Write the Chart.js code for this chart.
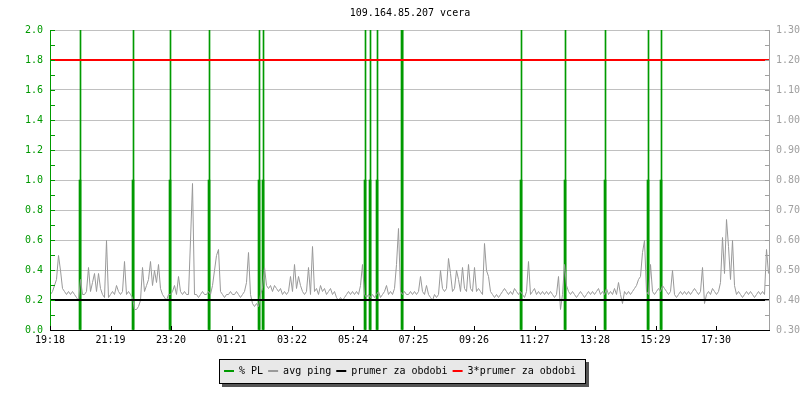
<!DOCTYPE html>
<html><head><meta charset="utf-8">
<script src="https://cdn.jsdelivr.net/npm/chart.js@4"></script>
<style>html,body{margin:0;padding:0;background:#fff}canvas{display:block}</style>
</head><body>
<canvas id="c" width="800" height="400"></canvas>
<script>
// ---------- data ----------
const chartTitle = '109.164.85.207 vcera';
const startTime = '19:18';
const periodMinutes = 1440;
const timeLabels = ['19:18','21:19','23:20','01:21','03:22','05:24','07:25','09:26','11:27','13:28','15:29','17:30'];
const seriesNames = ['% PL', 'avg ping', 'prumer za obdobi', '3*prumer za obdobi'];

// avg ping (ms), one sample every 4 minutes from 19:18
const pingStepMinutes = 4;
const pingValues = [
  0.42,0.43,0.45,0.47,0.55,0.50,0.44,0.43,0.42,0.43,
  0.42,0.43,0.42,0.41,0.40,0.47,0.42,0.42,0.43,0.51,
  0.43,0.46,0.49,0.43,0.49,0.44,0.42,0.41,0.60,0.41,
  0.42,0.43,0.42,0.45,0.43,0.42,0.43,0.53,0.42,0.43,
  0.42,0.41,0.37,0.37,0.38,0.40,0.51,0.43,0.45,0.47,
  0.53,0.45,0.50,0.46,0.52,0.44,0.42,0.41,0.40,0.42,
  0.42,0.43,0.45,0.42,0.48,0.43,0.42,0.43,0.42,0.42,
  0.60,0.79,0.42,0.42,0.41,0.42,0.43,0.42,0.42,0.43,
  0.42,0.45,0.50,0.55,0.57,0.43,0.42,0.41,0.42,0.42,
  0.43,0.42,0.42,0.43,0.42,0.41,0.42,0.43,0.46,0.56,
  0.42,0.39,0.38,0.39,0.38,0.42,0.44,0.51,0.45,0.44,
  0.45,0.43,0.45,0.44,0.43,0.44,0.42,0.43,0.42,0.43,
  0.48,0.43,0.52,0.44,0.48,0.45,0.43,0.42,0.43,0.51,
  0.42,0.58,0.43,0.44,0.42,0.45,0.43,0.44,0.42,0.43,
  0.44,0.42,0.43,0.41,0.40,0.41,0.40,0.41,0.42,0.43,
  0.42,0.43,0.42,0.43,0.42,0.45,0.52,0.42,0.41,0.42,
  0.41,0.42,0.41,0.42,0.43,0.41,0.42,0.43,0.45,0.42,
  0.43,0.42,0.44,0.52,0.64,0.43,0.42,0.43,0.42,0.42,
  0.43,0.42,0.43,0.42,0.43,0.48,0.43,0.42,0.45,0.42,
  0.41,0.40,0.42,0.41,0.42,0.50,0.44,0.43,0.44,0.54,
  0.49,0.43,0.44,0.50,0.47,0.43,0.51,0.44,0.43,0.52,
  0.44,0.43,0.51,0.43,0.44,0.43,0.42,0.59,0.50,0.48,
  0.43,0.42,0.41,0.42,0.41,0.42,0.43,0.44,0.43,0.42,
  0.43,0.42,0.44,0.43,0.42,0.43,0.42,0.41,0.43,0.53,
  0.42,0.43,0.44,0.42,0.43,0.42,0.43,0.42,0.43,0.42,
  0.43,0.42,0.41,0.42,0.48,0.37,0.42,0.52,0.45,0.43,
  0.42,0.43,0.42,0.41,0.42,0.43,0.42,0.41,0.42,0.43,
  0.42,0.43,0.42,0.43,0.44,0.42,0.43,0.42,0.44,0.42,
  0.43,0.42,0.44,0.42,0.46,0.42,0.39,0.43,0.42,0.43,
  0.42,0.43,0.44,0.45,0.47,0.48,0.56,0.60,0.43,0.42,
  0.52,0.43,0.42,0.43,0.44,0.43,0.45,0.44,0.43,0.42,
  0.43,0.50,0.42,0.41,0.42,0.43,0.42,0.43,0.42,0.43,
  0.42,0.43,0.44,0.43,0.42,0.43,0.51,0.39,0.42,0.43,
  0.42,0.44,0.43,0.42,0.43,0.46,0.61,0.49,0.67,0.58,
  0.47,0.60,0.45,0.42,0.43,0.42,0.41,0.42,0.43,0.42,
  0.43,0.42,0.41,0.42,0.43,0.42,0.43,0.42,0.57,0.49
];

// packet loss samples (minutes after 19:18, %)
const plTimes  = [60,166,240,318,418,426,630,640,654,704,942,1030,1110,1196,1222];
const plValues = [1,1,1,1,1,1,1,1,1,3,1,1,1,1,1];
const plPeakTimes  = [61,167,241,319,419,427,631,641,655,705,943,1031,1111,1197,1223];
const plPeakValues = [5,5,5,5,5,5,5,5,5,5,5,5,5,5,5];

const avgPing = 0.40;

// ---------- styles ----------
const GREEN = '#009a00';
const GRAY = '#999999';
const AXIS_GRAY = '#a0a0a0';
const FONT = {family: "'DejaVu Sans Mono', monospace", size: 10, weight: 'normal'};

function minutesFromStart(lbl) {
  const [h, m] = lbl.split(':').map(Number);
  const [h0, m0] = startTime.split(':').map(Number);
  return ((h * 60 + m) - (h0 * 60 + m0) + 1440) % 1440;
}
const tickMinutes = timeLabels.map(minutesFromStart);

const pingData = pingValues.map((v, i) => ({x: i * pingStepMinutes, y: v}));
const plData = plTimes.map((t, i) => ({x: t, y: plValues[i]}));
const plPeakData = plPeakTimes.map((t, i) => ({x: t, y: plPeakValues[i]}));

const crispPlugin = {
  id: 'crisp',
  beforeDatasetDraw(chart, args) {
    if (chart.data.datasets[args.index].crisp) { chart.ctx.save(); chart.ctx.translate(0.5, 0.5); }
  },
  afterDatasetDraw(chart, args) {
    if (chart.data.datasets[args.index].crisp) chart.ctx.restore();
  }
};

const legendBoxPlugin = {
  id: 'legendBox',
  beforeDraw(chart) {
    const lg = chart.legend;
    if (!lg || !lg.legendHitBoxes || !lg.legendHitBoxes.length) return;
    const hb = lg.legendHitBoxes;
    const first = hb[0], last = hb[hb.length - 1];
    const l = Math.round(first.left - 5);
    const r = Math.round(last.left + last.width + 9);
    const cy = Math.round(first.top + first.height / 2);
    const t = cy - 12, b = cy + 12;
    const ctx = chart.ctx;
    ctx.save();
    ctx.fillStyle = '#555555';
    ctx.fillRect(l + 3, t + 3, r - l + 1, b - t + 1);
    ctx.fillStyle = '#e8e8e8';
    ctx.fillRect(l, t, r - l, b - t);
    ctx.strokeStyle = '#000';
    ctx.lineWidth = 1;
    ctx.strokeRect(l + 0.5, t + 0.5, r - l, b - t);
    ctx.restore();
  }
};

const axesPlugin = {
  id: 'axesDraw',
  afterDatasetsDraw(chart) {
    const {ctx, chartArea: a, scales} = chart;
    const yl = scales.yL, yr = scales.yR, x = scales.x;
    ctx.save();
    ctx.lineWidth = 1;
    // left axis
    ctx.strokeStyle = GREEN;
    ctx.beginPath();
    ctx.moveTo(a.left + 0.5, a.top); ctx.lineTo(a.left + 0.5, a.bottom + 1);
    const lStep = yl.options.ticks.stepSize / 2;
    for (let v = yl.min; v <= yl.max + 1e-9; v += lStep) {
      const p = Math.round(yl.getPixelForValue(v)) + 0.5;
      ctx.moveTo(a.left, p); ctx.lineTo(a.left + 5, p);
    }
    ctx.stroke();
    // right axis
    ctx.strokeStyle = AXIS_GRAY;
    ctx.beginPath();
    ctx.moveTo(a.right - 0.5, a.top); ctx.lineTo(a.right - 0.5, a.bottom + 1);
    const rStep = yr.options.ticks.stepSize / 2;
    for (let v = yr.min; v <= yr.max + 1e-9; v += rStep) {
      const p = Math.round(yr.getPixelForValue(v)) + 0.5;
      ctx.moveTo(a.right - 5, p); ctx.lineTo(a.right, p);
    }
    ctx.stroke();
    // x axis
    ctx.strokeStyle = '#000';
    ctx.beginPath();
    ctx.moveTo(a.left, a.bottom + 0.5); ctx.lineTo(a.right, a.bottom + 0.5);
    tickMinutes.forEach(m => {
      const p = Math.round(x.getPixelForValue(m)) + 0.5;
      ctx.moveTo(p, a.bottom); ctx.lineTo(p, a.bottom - 4);
    });
    ctx.stroke();
    ctx.restore();
  }
};

new Chart(document.getElementById('c'), {
  type: 'line',
  data: {
    datasets: [
      {type: 'bar', label: seriesNames[0], data: plData, yAxisID: 'yL', backgroundColor: GREEN,
       barThickness: 2, grouped: false, borderWidth: 0, order: 5, legendColor: GREEN},
      {type: 'line', label: seriesNames[1], data: pingData, yAxisID: 'yR', borderColor: GRAY,
       borderWidth: 1, pointRadius: 0, tension: 0, order: 3, crisp: true, legendColor: GRAY},
      {type: 'line', label: seriesNames[2], data: [{x: 0, y: avgPing}, {x: periodMinutes, y: avgPing}],
       yAxisID: 'yR', borderColor: '#000', borderWidth: 2, pointRadius: 0, order: 2, legendColor: '#000'},
      {type: 'line', label: seriesNames[3], data: [{x: 0, y: 3 * avgPing}, {x: periodMinutes, y: 3 * avgPing}],
       yAxisID: 'yR', borderColor: '#ff0000', borderWidth: 2, pointRadius: 0, order: 1, legendColor: '#ff0000'},
      {type: 'bar', data: plPeakData, yAxisID: 'yL', backgroundColor: GREEN,
       barThickness: 1, grouped: false, borderWidth: 0, order: 4}
    ]
  },
  options: {
    responsive: false,
    animation: false,
    events: [],
    layout: {padding: {top: 0, left: 0, right: 0, bottom: 14}},
    scales: {
      x: {
        type: 'linear', min: 0, max: periodMinutes, offset: false,
        afterFit(s) { s.height = 31; },
        afterBuildTicks(s) { s.ticks = tickMinutes.map(v => ({value: v})); },
        ticks: {
          autoSkip: false, maxRotation: 0, padding: 4, color: '#000', font: FONT,
          callback: (v) => { const i = tickMinutes.indexOf(v); return i >= 0 ? timeLabels[i] : ''; }
        },
        grid: {display: false, drawTicks: false},
        border: {display: false}
      },
      yL: {
        position: 'left', min: 0, max: 2,
        afterFit(s) { s.width = 50; },
        ticks: {stepSize: 0.2, padding: 7, color: GREEN, font: FONT, callback: v => v.toFixed(1)},
        grid: {color: '#c0c0c0', drawTicks: false, lineWidth: 1},
        border: {display: false}
      },
      yR: {
        position: 'right', min: 0.3, max: 1.3,
        afterFit(s) { s.width = 30; },
        ticks: {stepSize: 0.1, padding: 6, color: AXIS_GRAY, font: FONT, callback: v => v.toFixed(2)},
        grid: {display: false, drawTicks: false},
        border: {display: false}
      }
    },
    plugins: {
      title: {display: true, text: chartTitle, color: '#000', font: FONT, fullSize: false,
              padding: {top: 7, bottom: 11}},
      tooltip: {enabled: false},
      legend: {
        position: 'bottom',
        labels: {
          font: FONT, color: '#000', usePointStyle: true, pointStyleWidth: 10, boxHeight: 10, padding: 5,
          generateLabels: (chart) => chart.data.datasets
            .map((ds, i) => ({ds, i}))
            .filter(o => o.ds.label)
            .map(o => ({text: o.ds.label, strokeStyle: o.ds.legendColor, fillStyle: o.ds.legendColor,
                        lineWidth: 2, pointStyle: 'line', hidden: false, datasetIndex: o.i, fontColor: '#000'}))
        }
      }
    }
  },
  plugins: [crispPlugin, legendBoxPlugin, axesPlugin]
});
</script>
</body></html>
